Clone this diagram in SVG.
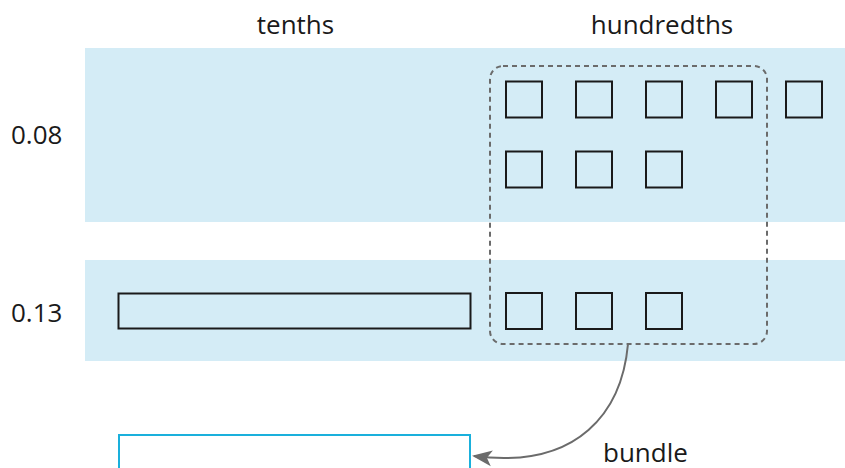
<svg xmlns="http://www.w3.org/2000/svg" width="845" height="468" viewBox="0 0 845 468">
<defs>
<style>
text{font-family:"Open Sans","Liberation Sans",sans-serif;font-size:26px;fill:#1a1a1a}
.band{fill:#d4ecf6}
.sq{fill:none;stroke:#1a1a1a;stroke-width:2}
</style>
<marker id="ah2" viewBox="0 0 20 20" refX="18" refY="10" markerWidth="20" markerHeight="20" orient="auto" markerUnits="userSpaceOnUse">
<path d="M0,2 L20,10 L0,18 L5,10 z" fill="#6b6b6b"/>
</marker>
</defs>
<g id="labels">
<text x="295.5" y="33.5" text-anchor="middle">tenths</text>
<text x="662" y="33.5" text-anchor="middle">hundredths</text>
<text x="11" y="143.5">0.08</text>
<text x="11" y="321.5">0.13</text>
<text x="603" y="462">bundle</text>
</g>
<g id="row-008">
<rect class="band" x="85" y="48" width="760" height="174"/>
<rect class="sq" x="506" y="81.5" width="36" height="36"/>
<rect class="sq" x="576" y="81.5" width="36" height="36"/>
<rect class="sq" x="646" y="81.5" width="36" height="36"/>
<rect class="sq" x="716" y="81.5" width="36" height="36"/>
<rect class="sq" x="786" y="81.5" width="36" height="36"/>
<rect class="sq" x="506" y="151.5" width="36" height="36"/>
<rect class="sq" x="576" y="151.5" width="36" height="36"/>
<rect class="sq" x="646" y="151.5" width="36" height="36"/>
</g>
<g id="row-013">
<rect class="band" x="85" y="260" width="760" height="101"/>
<rect class="sq" x="118.5" y="293.5" width="352" height="35"/>
<rect class="sq" x="506" y="293" width="36" height="36"/>
<rect class="sq" x="576" y="293" width="36" height="36"/>
<rect class="sq" x="646" y="293" width="36" height="36"/>
</g>
<g id="bundle-group">
<rect x="490" y="66" width="277" height="278" rx="13" fill="none" stroke="#6b6b6b" stroke-width="2" stroke-dasharray="5,4"/>
</g>
<g id="result">
<rect x="119" y="435" width="351" height="40" fill="none" stroke="#1ab0dc" stroke-width="2"/>
</g>
<g id="connectors">
<path d="M628,344 C622,410 580,470 474,456" fill="none" stroke="#6b6b6b" stroke-width="2" marker-end="url(#ah2)"/>
</g>
</svg>
